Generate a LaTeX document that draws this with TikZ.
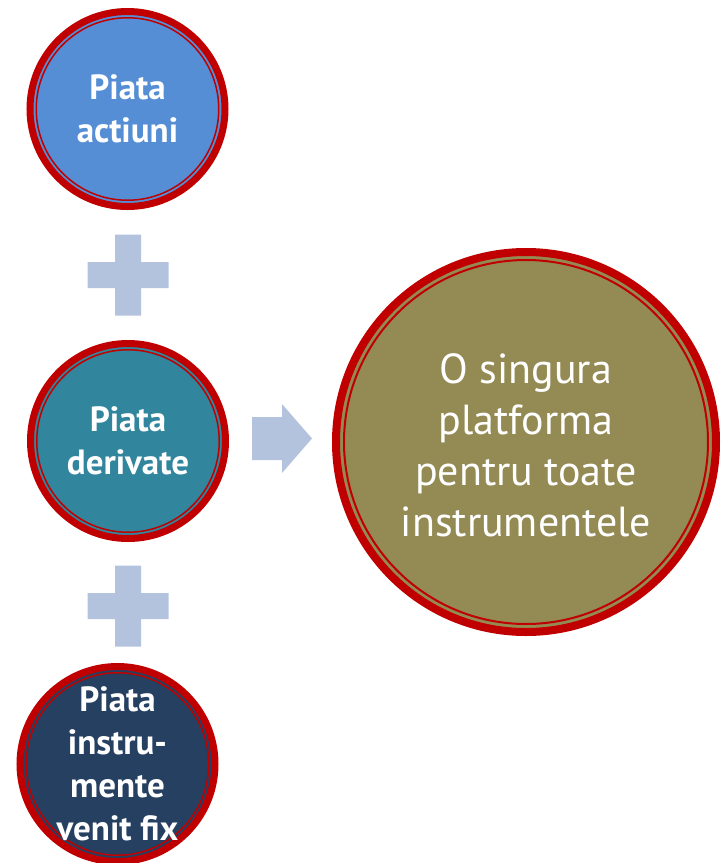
\documentclass[tikz,border=0pt]{standalone}
\usepackage{fontspec}
\setmainfont{PT Sans}
\definecolor{ringred}{HTML}{C00000}
\definecolor{actblue}{HTML}{558ED5}
\definecolor{derteal}{HTML}{31859C}
\definecolor{fixnavy}{HTML}{254061}
\definecolor{platolive}{HTML}{948A54}
\definecolor{linkblue}{HTML}{B3C3DE}
\begin{document}
\begin{tikzpicture}[x=1pt,y=-1pt,
disc/.style={circle,fill=#1,draw=ringred,line width=7pt,minimum size=195pt,inner sep=0pt},
bigdisc/.style={circle,fill=#1,draw=ringred,line width=8pt,minimum size=380pt,inner sep=0pt},
inring/.style={draw=ringred,line width=1.5pt},
mkt/.style={text=white,align=center,inner sep=0pt,font=\bfseries\fontsize{35}{43}\selectfont},
result/.style={text=white,align=center,inner sep=0pt,font=\fontsize{42}{51}\selectfont},
connect/.style={fill=linkblue}]
\useasboundingbox (0,0) rectangle (723,863);
% market circles
\node[disc=actblue] (act) at (127.5,109) {};
\node[disc=derteal] (der) at (128,441) {};
\node[disc=fixnavy] (fix) at (117.5,764) {};
\node[bigdisc=platolive] (plat) at (526,442) {};
\foreach \n in {act,der,fix}
  \draw[inring] (\n.center) circle (91.25pt);
\draw[inring,line width=2pt] (plat.center) circle (182pt);
% texts
\node[mkt] (actT) at (act) {Piata\\actiuni};
\node[mkt] (derT) at (der) {Piata\\derivate};
\node[mkt] (fixT) at (fix) {Piata\\instru-\\mente\\venit fix};
\node[result] (platT) at ([yshift=-3]plat.center) {O singura\\platforma\\pentru toate\\instrumentele};
% plus signs and arrow
\coordinate (plus1) at (128,275);
\coordinate (plus2) at (128,606);
\foreach \p in {plus1,plus2}
  \fill[connect] (\p) ++(-13,-40.5) -- ++(26,0) -- ++(0,27.5) -- ++(27.5,0) -- ++(0,26)
    -- ++(-27.5,0) -- ++(0,27.5) -- ++(-26,0) -- ++(0,-27.5) -- ++(-27.5,0) -- ++(0,-26)
    -- ++(27.5,0) -- cycle;
\coordinate (arr) at (252,438.5);
\fill[connect] (arr) ++(0,-21.5) -- ++(30,0) -- ++(0,-13) -- ++(30,34.5) -- ++(-30,34.5)
  -- ++(0,-13) -- ++(-30,0) -- cycle;
\end{tikzpicture}
\end{document}
